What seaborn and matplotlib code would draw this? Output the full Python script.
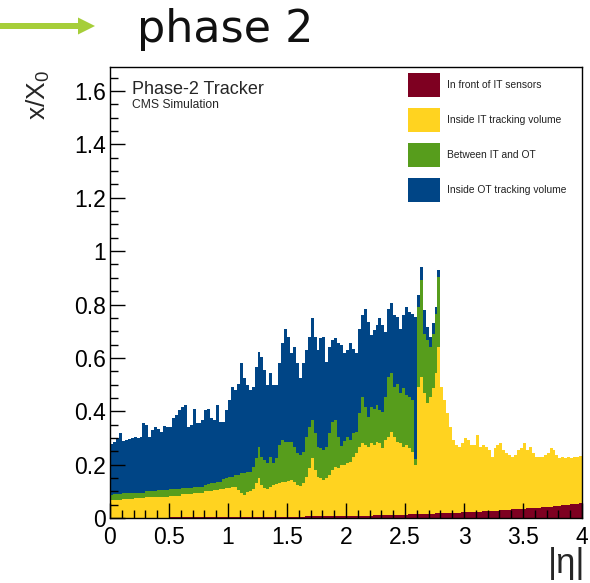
import numpy as np
import pandas as pd
import matplotlib
matplotlib.use("Agg")
import matplotlib.pyplot as plt
import seaborn as sns
from matplotlib.patches import Patch, FancyArrow
from matplotlib.transforms import IdentityTransform
from matplotlib.ticker import MultipleLocator

sns.set_style("ticks")
plt.rcParams["font.family"] = ["Liberation Sans", "DejaVu Sans"]
plt.rcParams["mathtext.fontset"] = "custom"
plt.rcParams["mathtext.rm"] = "Liberation Sans"
plt.rcParams["mathtext.it"] = "Liberation Sans"

# ---- data: cumulative stack tops, 160 bins of 0.025 in |eta| ----
eta_min, eta_max, n_bins = 0.0, 4.0, 160

front_IT = [
    0.001, 0.001, 0.001, 0.001, 0.001, 0.001, 0.001, 0.001, 0.001, 0.001,
    0.001, 0.001, 0.001, 0.001, 0.001, 0.001, 0.001, 0.001, 0.001, 0.001,
    0.002, 0.002, 0.002, 0.002, 0.002, 0.002, 0.002, 0.002, 0.002, 0.002,
    0.002, 0.002, 0.002, 0.002, 0.002, 0.002, 0.002, 0.002, 0.002, 0.002,
    0.003, 0.003, 0.003, 0.003, 0.003, 0.003, 0.003, 0.003, 0.004, 0.004,
    0.004, 0.004, 0.004, 0.004, 0.004, 0.004, 0.005, 0.005, 0.005, 0.005,
    0.005, 0.005, 0.005, 0.005, 0.005, 0.005, 0.006, 0.006, 0.006, 0.006,
    0.006, 0.006, 0.006, 0.006, 0.006, 0.007, 0.007, 0.007, 0.007, 0.007,
    0.007, 0.008, 0.008, 0.008, 0.008, 0.009, 0.009, 0.009, 0.009, 0.010,
    0.010, 0.010, 0.011, 0.011, 0.011, 0.012, 0.012, 0.012, 0.013, 0.013,
    0.013, 0.014, 0.014, 0.014, 0.015, 0.015, 0.015, 0.016, 0.016, 0.016,
    0.017, 0.017, 0.018, 0.018, 0.018, 0.019, 0.019, 0.020, 0.020, 0.021,
    0.021, 0.022, 0.022, 0.023, 0.023, 0.024, 0.025, 0.025, 0.026, 0.027,
    0.027, 0.028, 0.029, 0.029, 0.030, 0.031, 0.032, 0.032, 0.033, 0.034,
    0.035, 0.036, 0.036, 0.037, 0.038, 0.039, 0.040, 0.041, 0.042, 0.043,
    0.044, 0.045, 0.046, 0.047, 0.048, 0.050, 0.051, 0.052, 0.053, 0.055]

top_IT = [
    0.067, 0.067, 0.067, 0.067, 0.070, 0.070, 0.070, 0.070, 0.074, 0.074,
    0.074, 0.074, 0.077, 0.077, 0.077, 0.077, 0.080, 0.080, 0.080, 0.080,
    0.084, 0.084, 0.084, 0.084, 0.089, 0.089, 0.089, 0.089, 0.095, 0.095,
    0.095, 0.095, 0.100, 0.101, 0.102, 0.104, 0.106, 0.107, 0.109, 0.111,
    0.113, 0.115, 0.117, 0.105, 0.095, 0.086, 0.099, 0.100, 0.107, 0.130,
    0.149, 0.124, 0.111, 0.107, 0.117, 0.124, 0.128, 0.130, 0.134, 0.136,
    0.140, 0.142, 0.136, 0.124, 0.120, 0.130, 0.155, 0.186, 0.223, 0.180,
    0.155, 0.149, 0.142, 0.149, 0.161, 0.180, 0.192, 0.186, 0.198, 0.198,
    0.205, 0.211, 0.230, 0.242, 0.267, 0.280, 0.273, 0.267, 0.280, 0.273,
    0.286, 0.280, 0.261, 0.292, 0.305, 0.323, 0.305, 0.286, 0.280, 0.267,
    0.273, 0.261, 0.248, 0.200, 0.492, 0.529, 0.467, 0.430, 0.454, 0.486,
    0.542, 0.642, 0.492, 0.442, 0.392, 0.342, 0.292, 0.273, 0.267, 0.280,
    0.298, 0.292, 0.273, 0.273, 0.311, 0.267, 0.273, 0.267, 0.255, 0.230,
    0.261, 0.273, 0.280, 0.255, 0.242, 0.236, 0.230, 0.236, 0.255, 0.261,
    0.280, 0.255, 0.267, 0.242, 0.230, 0.227, 0.230, 0.236, 0.242, 0.261,
    0.255, 0.236, 0.223, 0.230, 0.223, 0.230, 0.223, 0.230, 0.227, 0.232]

top_between = [
    0.086, 0.090, 0.090, 0.090, 0.092, 0.092, 0.092, 0.092, 0.095, 0.095,
    0.095, 0.095, 0.100, 0.100, 0.100, 0.100, 0.105, 0.105, 0.105, 0.105,
    0.107, 0.107, 0.107, 0.107, 0.112, 0.112, 0.112, 0.112, 0.117, 0.117,
    0.117, 0.117, 0.124, 0.126, 0.130, 0.132, 0.135, 0.136, 0.145, 0.149,
    0.155, 0.155, 0.161, 0.161, 0.167, 0.167, 0.174, 0.174, 0.192, 0.223,
    0.267, 0.230, 0.217, 0.205, 0.230, 0.205, 0.223, 0.273, 0.292, 0.286,
    0.286, 0.286, 0.267, 0.242, 0.236, 0.248, 0.305, 0.342, 0.367, 0.317,
    0.267, 0.261, 0.255, 0.267, 0.317, 0.360, 0.367, 0.305, 0.270, 0.290,
    0.305, 0.292, 0.317, 0.323, 0.392, 0.454, 0.417, 0.380, 0.417, 0.410,
    0.423, 0.404, 0.398, 0.454, 0.529, 0.542, 0.492, 0.504, 0.467, 0.486,
    0.461, 0.454, 0.442, 0.220, 0.790, 0.890, 0.690, 0.667, 0.642, 0.690,
    0.766, 0.904] + [None] * 48

top_OT = [
    0.277, 0.286, 0.300, 0.317, 0.290, 0.292, 0.296, 0.298, 0.305, 0.298,
    0.305, 0.355, 0.348, 0.305, 0.330, 0.342, 0.332, 0.323, 0.345, 0.340,
    0.342, 0.373, 0.386, 0.404, 0.417, 0.423, 0.342, 0.348, 0.410, 0.355,
    0.357, 0.367, 0.404, 0.410, 0.373, 0.367, 0.423, 0.360, 0.360, 0.404,
    0.442, 0.492, 0.480, 0.504, 0.582, 0.523, 0.498, 0.480, 0.492, 0.567,
    0.623, 0.604, 0.554, 0.498, 0.542, 0.498, 0.498, 0.579, 0.654, 0.710,
    0.679, 0.617, 0.642, 0.579, 0.523, 0.579, 0.629, 0.679, 0.748, 0.679,
    0.629, 0.673, 0.679, 0.585, 0.642, 0.667, 0.673, 0.654, 0.650, 0.620,
    0.630, 0.654, 0.635, 0.617, 0.710, 0.760, 0.785, 0.735, 0.685, 0.704,
    0.723, 0.748, 0.723, 0.698, 0.785, 0.804, 0.760, 0.754, 0.710, 0.760,
    0.790, 0.773, 0.766, 0.754, 0.835, 0.940, 0.780, 0.717, 0.680, 0.730,
    0.790, 0.930] + [None] * 48

labels = ["In front of IT sensors", "Inside IT tracking volume",
          "Between IT and OT", "Inside OT tracking volume"]
colors = ["#7e0021", "#ffd320", "#579d1c", "#004586"]

edges = [float(e) for e in np.linspace(eta_min, eta_max, n_bins + 1)]
centers = [0.5 * (a + b) for a, b in zip(edges[:-1], edges[1:])]


def filled(series, below):
    return [b if v is None else v for v, b in zip(series, below)]


c_IT = list(top_IT)
c_between = filled(top_between, c_IT)
c_OT = filled(top_OT, c_between)
c_front = list(front_IT)

# ---- figure ----
W, H = 590, 583
fig = plt.figure(figsize=(W / 100, H / 100), dpi=100)
ax = fig.add_axes([110 / W, 1 - 518 / H, 472 / W, (518 - 67) / H])

for cum, col in zip([c_OT, c_between, c_IT, c_front], colors[::-1]):
    df = pd.DataFrame({"eta": centers, "w": cum})
    sns.histplot(data=df, x="eta", weights="w", bins=edges, element="step",
                 fill=True, color=col, alpha=1, linewidth=0, ax=ax)

ax.set_xlim(0, 4)
ax.set_ylim(0, 1.69)
ax.set_xlabel("")
ax.set_ylabel("")
ax.set_xticks(np.arange(0, 4.01, 0.5))
ax.set_xticklabels(["0", "0.5", "1", "1.5", "2", "2.5", "3", "3.5", "4"])
ax.set_yticks(np.arange(0, 1.61, 0.2))
ax.set_yticklabels(["0", "0.2", "0.4", "0.6", "0.8", "1", "1.2", "1.4", "1.6"])
ax.xaxis.set_minor_locator(MultipleLocator(0.1))
ax.yaxis.set_minor_locator(MultipleLocator(0.05))
ax.tick_params(which="both", direction="in", colors="black", labelsize=16.5, width=1,
               top=False, right=False)
ax.tick_params(which="major", length=10.5, pad=3)
ax.tick_params(which="minor", length=5.5)
ax.tick_params(axis="x", which="major", pad=6)
for s in ax.spines.values():
    s.set_visible(True)
    s.set_linewidth(1)
    s.set_color("black")
ax.set_axisbelow(False)

# texts inside
fig.text(132 / W, 1 - 89 / H, "Phase-2 Tracker", fontsize=13, va="center", ha="left")
fig.text(132 / W, 1 - 105 / H, "CMS Simulation", fontsize=8.7, va="center", ha="left")

# legend
handles = [Patch(facecolor=c, edgecolor="none") for c in colors]
fs = 7.4
leg = fig.legend(handles, labels, loc="upper left",
                 bbox_to_anchor=(408 / W, 1 - 73 / H), frameon=False,
                 fontsize=fs, handlelength=32 / (fs * 1.389),
                 handleheight=3.21, labelspacing=1.07, handletextpad=0.7,
                 borderpad=0, borderaxespad=0)
for t in leg.get_texts():
    t.set_color("#222222")

# axis titles
fig.text(38 / W, 1 - 95 / H, r"x/X$_0$", rotation=90, ha="center", va="center",
         fontsize=19)
fig.text(585 / W, 1 - 564 / H, "|η|", ha="right", va="center", fontsize=25)

# header arrow and caption
fig.add_artist(FancyArrow(0, H - 26, 95, 0, width=6, head_width=17, head_length=17,
                          length_includes_head=True, color="#a6ce39", linewidth=0,
                          transform=IdentityTransform()))
fig.text(137 / W, 1 - 42 / H, "phase 2", fontsize=32, va="baseline", ha="left",
         family="DejaVu Sans", color="#111111")

fig.savefig("out.png", dpi=100)
